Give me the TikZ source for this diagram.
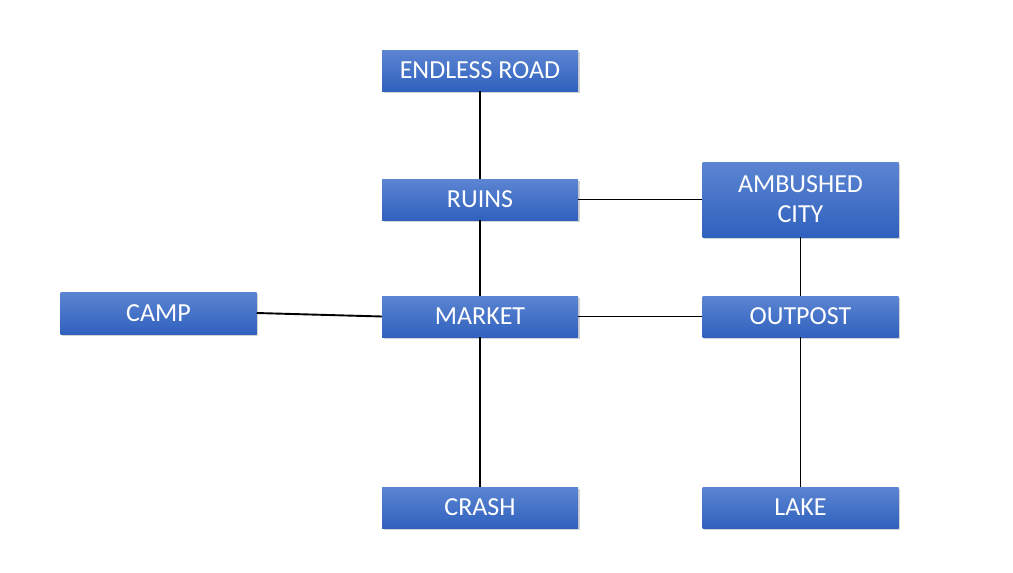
\documentclass[tikz,border=0pt]{standalone}
\usepackage{fontspec}
\setmainfont{Carlito}
\usepackage{tikz}
\usetikzlibrary{shadows}

\definecolor{boxtop}{HTML}{5C85D2}
\definecolor{boxbot}{HTML}{3061BE}

\tikzset{
  place/.style={rectangle, minimum width=196pt, minimum height=41pt,
    top color=boxtop, bottom color=boxbot, draw=none,
    drop shadow={shadow xshift=1.5pt, shadow yshift=-2pt, opacity=0.35},
    text=white, align=center, inner sep=0pt,
    font=\fontsize{26}{30}\selectfont},
  road/.style={draw=black, line width=1.9pt}
}

\begin{document}
\begin{tikzpicture}[x=1pt, y=-1pt]
   \useasboundingbox (0,0) rectangle (1013,573);

   \node[place] (endless) at (480,70.5) {ENDLESS ROAD};
   \node[place] (ruins) at (480,199.5) {RUINS};
   \node[place, minimum height=75pt] (ambushed) at (800.5,199.5) {AMBUSHED\\CITY};
   \node[place, minimum height=42pt] (camp) at (158.5,313) {CAMP};
   \node[place] (market) at (480,316.5) {MARKET};
   \node[place] (outpost) at (800.5,316.5) {OUTPOST};
   \node[place] (crash) at (480,507.5) {CRASH};
   \node[place] (lake) at (800.5,507.5) {LAKE};

   \draw[road] (endless) -- (ruins);
   \draw[road] (ruins) -- (ambushed);
   \draw[road] (ruins) -- (market);
   \draw[road] (camp.east) -- (market.west);
   \draw[road] (market) -- (outpost);
   \draw[road] (ambushed) -- (outpost);
   \draw[road] (market) -- (crash);
   \draw[road] (outpost) -- (lake);
\end{tikzpicture}
\end{document}
